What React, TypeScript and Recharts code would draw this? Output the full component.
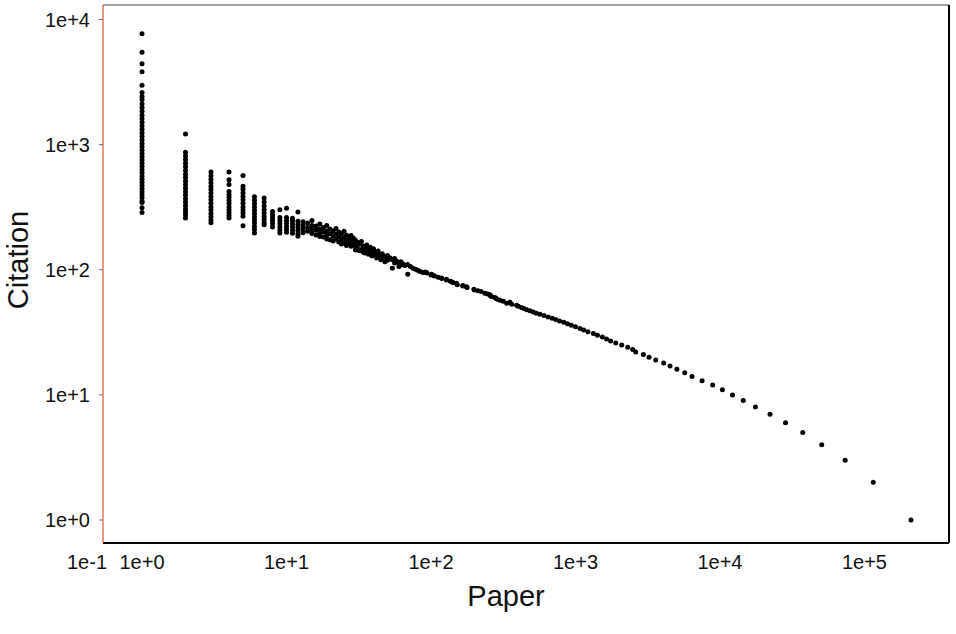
import React from "react";
import { ScatterChart, Scatter, XAxis, YAxis, Label, ReferenceLine } from "recharts";

const FONT = "'Liberation Sans', Arial, sans-serif";

// axis setup (log scales)
const X_DOMAIN = [0.537, 384600];
const Y_DOMAIN = [0.655, 13060];
const X_TICKS = [0.537, 1, 10, 100, 1000, 10000, 100000];
const X_TICK_LABELS = ["1e-1", "1e+0", "1e+1", "1e+2", "1e+3", "1e+4", "1e+5"];
const Y_TICKS = [1, 10, 100, 1000, 10000];
const Y_TICK_LABELS = ["1e+0", "1e+1", "1e+2", "1e+3", "1e+4"];

// papers count shared by several citation values (the vertical stacks + cloud)
const GROUP_PAPERS = [
  1, 2, 3, 4, 5, 6, 7, 8, 9, 10, 11, 12, 13, 14, 15, 16, 17, 18, 19, 20, 21,
  22, 23, 24, 25, 26, 27, 28, 29, 30, 31, 32, 33, 34, 35, 36, 37, 38, 39, 40,
  41, 42, 43, 44, 45, 46, 48, 50, 52, 54, 56, 58, 60, 62, 64, 66, 69, 72, 75,
  78, 81, 84, 88, 91,
];
const GROUP_CITATIONS = [
  [7690, 5470, 4420, 3820, 2980, 2610, 2420, 2290, 2120, 1980, 1850, 1720, 1610, 1500, 1410, 1320, 1240, 1160, 1090, 1020, 960, 900, 850, 800, 755, 710, 670, 630, 595, 560, 530, 500, 472, 446, 420, 398, 376, 352, 344, 313, 287],
  [1218, 868, 810, 760, 710, 665, 620, 580, 545, 510, 478, 448, 420, 395, 370, 348, 326, 306, 290, 275, 259],
  [604, 565, 530, 497, 466, 437, 410, 385, 362, 340, 318, 300, 282, 265, 250, 238],
  [604, 525, 480, 423, 400, 380, 358, 338, 318, 300, 285, 271, 259],
  [567, 464, 440, 410, 385, 362, 340, 318, 300, 284, 268, 225],
  [384, 360, 338, 318, 298, 280, 264, 250, 236, 222, 210, 197],
  [375, 348, 324, 302, 284, 268, 252, 238, 229],
  [292, 275, 260, 248, 234, 220],
  [302, 262, 247, 233, 220, 208, 197],
  [310, 262, 248, 235, 222, 210, 199],
  [258, 245, 232, 220, 207, 196],
  [290, 244, 230, 218, 206, 194, 185],
  [242, 226, 212, 198],
  [236, 218, 203],
  [248, 226, 210, 195],
  [224, 207, 190],
  [232, 212, 197, 184],
  [218, 200, 183],
  [226, 204, 190, 176],
  [212, 194, 174],
  [204, 186, 170],
  [214, 192, 176],
  [200, 183, 167],
  [194, 176, 161],
  [203, 180, 164],
  [190, 172, 156],
  [182, 164],
  [188, 170, 154],
  [179, 160],
  [172, 154, 144],
  [166, 148],
  [160, 142],
  [168, 145],
  [155, 138],
  [150, 136],
  [158, 141],
  [146, 133],
  [151, 135],
  [143, 129],
  [147, 131],
  [139],
  [136, 124],
  [141, 127],
  [133],
  [129, 120],
  [134, 123],
  [127, 116],
  [130, 119],
  [125],
  [120, 103],
  [123, 113],
  [117],
  [114, 106],
  [116, 109],
  [111],
  [108],
  [110, 92],
  [106],
  [103],
  [101],
  [99],
  [97],
  [95],
  [96],
];

// low citation values, one point each
const TAIL_CITATIONS = [
  1, 2, 3, 4, 5, 6, 7, 8, 9, 10, 11, 12, 13, 14, 15, 16, 17, 18, 19, 20, 21,
  22, 23, 24, 25, 26, 27, 28, 29, 30, 31, 32, 33, 34, 35, 36, 37, 38, 39, 40,
  41, 42, 43, 44, 45, 46, 47, 48, 49, 50, 51, 52, 53, 54, 55, 56, 57, 58, 59,
  60, 61, 62, 63, 64, 65, 67, 68, 69, 70, 72, 73, 74, 75, 76, 78, 79, 80, 81,
  83, 84, 85, 86, 87, 89, 90, 91, 92, 94, 95,
];
const TAIL_PAPERS = [
  210000, 115000, 73500, 50600, 37400, 28400, 22200, 17600, 14500, 12200,
  10400, 8900, 7520, 6410, 5700, 5030, 4510, 4075, 3590, 3230, 2950, 2610,
  2490, 2300, 2090, 1900, 1750, 1640, 1535, 1420, 1330, 1220, 1140, 1075,
  1000, 935, 880, 830, 775, 730, 690, 648, 605, 568, 536, 510, 484, 460, 440,
  423, 402, 391, 362, 334, 352, 316, 300, 288, 282, 277, 262, 258, 256, 247,
  236, 222, 212, 200, 198, 178, 176, 166, 166, 152, 150, 142, 140, 136,
  128, 128, 119, 118, 112, 106, 104, 100, 101, 94, 93,
];

const points = [
  ...GROUP_PAPERS.flatMap((p, i) =>
    GROUP_CITATIONS[i].map((c) => ({ paper: p, citation: c }))
  ),
  ...TAIL_CITATIONS.map((c, i) => ({ paper: TAIL_PAPERS[i], citation: c })),
];

const Dot = (props: any) => {
  if (props.cx == null || props.cy == null) return null;
  return <circle cx={props.cx} cy={props.cy} r={2.5} fill="#000" />;
};

const PaperTick = (props: any) => {
  const { x, y, payload } = props;
  const i = X_TICKS.indexOf(payload.value);
  const first = i === 0;
  return (
    <text
      x={first ? x + 4 : x}
      y={y}
      dy={14}
      textAnchor={first ? "end" : "middle"}
      fontSize={20}
      fontFamily={FONT}
      fill="#111"
    >
      {X_TICK_LABELS[i]}
    </text>
  );
};

export default function App() {
  return (
    <div style={{ position: "absolute", left: 0, top: 0, background: "#fff" }}>
      <ScatterChart
        width={956}
        height={634}
        margin={{ top: 5, right: 7, bottom: 0, left: 0 }}
      >
        <XAxis
          dataKey="paper"
          type="number"
          scale="log"
          domain={X_DOMAIN}
          allowDataOverflow
          ticks={X_TICKS}
          interval={0}
          height={91}
          tickSize={0}
          tickMargin={12}
          tickLine={false}
          tick={<PaperTick />}
          axisLine={{ stroke: "#000", strokeWidth: 2 }}
        >
          <Label
            content={(p: any) => {
              const vb = p.viewBox;
              return (
                <text
                  x={vb.x + vb.width / 2 - 20}
                  y={vb.y + 63}
                  textAnchor="middle"
                  fontSize={29}
                  fontFamily={FONT}
                  fill="#111"
                >
                  Paper
                </text>
              );
            }}
          />
        </XAxis>
        <YAxis
          dataKey="citation"
          type="number"
          scale="log"
          domain={Y_DOMAIN}
          allowDataOverflow
          ticks={Y_TICKS}
          interval={0}
          width={103}
          tickSize={4}
          tickMargin={9}
          tickLine={{ stroke: "#5a6f8a" }}
          tickFormatter={(v: number) => Y_TICK_LABELS[Y_TICKS.indexOf(v)]}
          tick={{ fontSize: 20, fontFamily: FONT, fill: "#111" }}
          axisLine={{ stroke: "#d9542a", strokeWidth: 1.2 }}
        >
          <Label
            content={(p: any) => {
              const vb = p.viewBox;
              const cy = vb.y + vb.height / 2 - 14;
              return (
                <text
                  x={28}
                  y={cy}
                  transform={`rotate(-90, 28, ${cy})`}
                  textAnchor="middle"
                  fontSize={29}
                  fontFamily={FONT}
                  fill="#111"
                >
                  Citation
                </text>
              );
            }}
          />
        </YAxis>
        <ReferenceLine y={Y_DOMAIN[1]} stroke="#444" strokeWidth={1.2} />
        <ReferenceLine x={X_DOMAIN[1]} stroke="#000" strokeWidth={2} />
        <Scatter data={points} shape={<Dot />} isAnimationActive={false} />
      </ScatterChart>
    </div>
  );
}
